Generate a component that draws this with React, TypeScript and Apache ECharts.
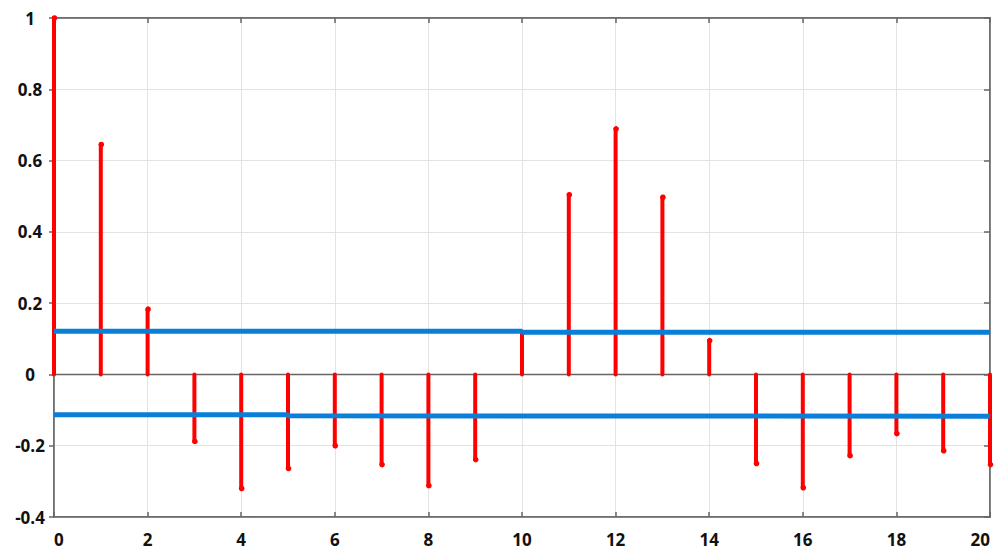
import React, { useEffect, useRef } from "react";
import * as echarts from "echarts";

const lags = [0, 1, 2, 3, 4, 5, 6, 7, 8, 9, 10, 11, 12, 13, 14, 15, 16, 17, 18, 19, 20];
const acf = [1.0, 0.645, 0.183, -0.188, -0.32, -0.264, -0.2, -0.253, -0.312, -0.239, 0.117, 0.504, 0.689, 0.497, 0.095, -0.25, -0.318, -0.228, -0.166, -0.214, -0.253];
const upperBoundX = [0, 10, 10, 20];
const upperBoundY = [0.121, 0.121, 0.118, 0.118];
const lowerBoundX = [0, 5, 5, 20];
const lowerBoundY = [-0.113, -0.113, -0.116, -0.117];
const yTicks = { min: -0.4, max: 1, interval: 0.2 };
const xTicks = { min: 0, max: 20, interval: 2 };

const AXIS = "#666666";
const GRIDC = "#e3e3e3";
const RED = "#ff0000";
const BLUE = "#0a7fd8";
const FONT = "'Open Sans', 'Liberation Sans', sans-serif";

export default function App() {
  const ref = useRef<HTMLDivElement>(null);
  useEffect(() => {
    if (!ref.current) return;
    const chart = echarts.init(ref.current, undefined, { renderer: "svg" });
    const stemData = lags.map((l, i) => [l, acf[i]]);
    const labelStyle = { color: "#111", fontWeight: "bold" as const, fontSize: 17, fontFamily: FONT };
    chart.setOption({
      animation: false,
      backgroundColor: "#ffffff",
      grid: {
        left: 54,
        right: 7,
        top: 18,
        bottom: 35,
        outerBoundsMode: "none",
        containLabel: false,
        show: true,
        borderColor: AXIS,
        borderWidth: 1.5,
        backgroundColor: "transparent",
      },
      xAxis: [
        {
          type: "value",
          min: xTicks.min,
          max: xTicks.max,
          interval: xTicks.interval,
          position: "bottom",
          axisLine: { show: true, onZero: false, lineStyle: { color: AXIS, width: 1.5 } },
          axisTick: { show: true, inside: true, length: 5, lineStyle: { color: AXIS, width: 1.5 } },
          axisLabel: { ...labelStyle, margin: 14, alignMinLabel: "left", alignMaxLabel: "right" },
          splitLine: { show: true, lineStyle: { color: GRIDC, width: 1 } },
        },
        {
          type: "value",
          min: xTicks.min,
          max: xTicks.max,
          interval: xTicks.interval,
          position: "top",
          axisLine: { show: true, onZero: false, lineStyle: { color: AXIS, width: 1.5 } },
          axisTick: { show: true, inside: true, length: 5, lineStyle: { color: AXIS, width: 1.5 } },
          axisLabel: { show: false },
          splitLine: { show: false },
        },
      ],
      yAxis: [
        {
          type: "value",
          min: yTicks.min,
          max: yTicks.max,
          interval: yTicks.interval,
          position: "left",
          axisLine: { show: true, onZero: false, lineStyle: { color: AXIS, width: 1.5 } },
          axisTick: { show: true, inside: false, length: 5, lineStyle: { color: AXIS, width: 1.5 } },
          axisLabel: { ...labelStyle, align: "center", margin: 24, formatter: (v: number) => String(Math.round(v * 10) / 10) },
          splitLine: { show: true, lineStyle: { color: GRIDC, width: 1 } },
        },
        {
          type: "value",
          min: yTicks.min,
          max: yTicks.max,
          interval: yTicks.interval,
          position: "right",
          axisLine: { show: true, onZero: false, lineStyle: { color: AXIS, width: 1.5 } },
          axisTick: { show: true, inside: true, length: 6, lineStyle: { color: AXIS, width: 1.5 } },
          axisLabel: { show: false },
          splitLine: { show: false },
        },
      ],
      series: [
        {
          type: "line",
          data: [[0, 0], [20, 0]],
          symbol: "none",
          lineStyle: { color: AXIS, width: 1.5 },
          silent: true,
          z: 1,
        },
        {
          type: "custom",
          clip: false,
          z: 3,
          data: stemData,
          renderItem: (params: any, api: any) => {
            const x = api.value(0);
            const y = api.value(1);
            const p0 = api.coord([x, 0]);
            const p1 = api.coord([x, y]);
            return {
              type: "group",
              children: [
                {
                  type: "line",
                  shape: { x1: p0[0], y1: p0[1], x2: p1[0], y2: p1[1] },
                  style: { stroke: RED, lineWidth: 4, lineCap: "round" },
                },
                {
                  type: "circle",
                  shape: { cx: p1[0] + 0.5, cy: p1[1], r: 2.8 },
                  style: { fill: RED },
                },
              ],
            };
          },
        },
        {
          type: "line",
          data: upperBoundX.map((x, i) => [x, upperBoundY[i]]),
          symbol: "none",
          lineStyle: { color: BLUE, width: 5 },
          z: 4,
        },
        {
          type: "line",
          data: lowerBoundX.map((x, i) => [x, lowerBoundY[i]]),
          symbol: "none",
          lineStyle: { color: BLUE, width: 5 },
          z: 4,
        },
      ],
    });
    return () => chart.dispose();
  }, []);
  return <div ref={ref} style={{ width: 997, height: 552, position: "absolute", left: 0, top: 0 }} />;
}
